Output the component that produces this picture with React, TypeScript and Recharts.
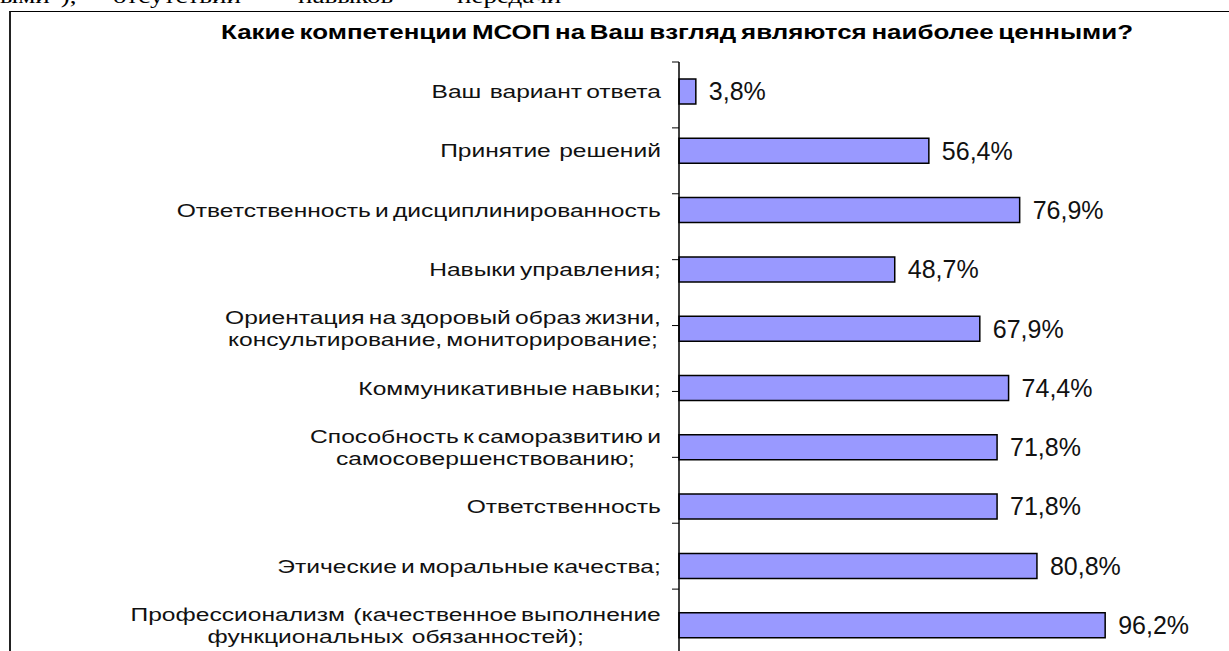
import React from 'react';
import { BarChart, Bar, XAxis, YAxis, LabelList } from 'recharts';

const categories: string[] = [
  'Ваш  вариант ответа',
  'Принятие  решений',
  'Ответственность и дисциплинированность',
  'Навыки управления;',
  'Ориентация на здоровый образ жизни,\nконсультирование, мониторирование;',
  'Коммуникативные навыки;',
  'Способность к саморазвитию и\nсамосовершенствованию;',
  'Ответственность',
  'Этические и моральные качества;',
  'Профессионализм  (качественное выполнение\nфункциональных  обязанностей);',
];
const values: number[] = [3.8, 56.4, 76.9, 48.7, 67.9, 74.4, 71.8, 71.8, 80.8, 96.2];
const boundaryTicks: number[] = [0, 1, 2, 3, 4, 5, 6, 7, 8, 9, 10];
const titleText = 'Какие компетенции МСОП на Ваш взгляд являются наиболее ценными?';
const headerWords: string[] = ['ыми"),', 'отсутствии', 'навыков', 'передачи'];
const headerWordX: number[] = [0, 113, 298, 457];

const data = categories.map((name, i) => ({ name, value: values[i] }));

const CAT_FONT = 18.5;
const CAT_SX = 1.33;
const CAT_LH = 22;
const CAT_WS = -2;
const FONT_FAMILY = '"Liberation Sans", Arial, sans-serif';

let ctx: CanvasRenderingContext2D | null = null;
function measure(s: string, font: string): number {
  if (!ctx && typeof document !== 'undefined') {
    ctx = document.createElement('canvas').getContext('2d');
  }
  if (!ctx) return s.length * 9;
  ctx.font = font;
  const spaces = (s.match(/ /g) || []).length;
  return ctx.measureText(s).width + spaces * CAT_WS;
}

const CatTick = (props: any) => {
  const { x, y, payload } = props;
  const lines = String(payload.value).split('\n');
  const font = `${CAT_FONT}px "Liberation Sans"`;
  const maxW = Math.max(...lines.map((l) => measure(l, font)));
  const startY = -((lines.length - 1) * CAT_LH) / 2;
  return (
    <g transform={`translate(${x},${y}) scale(${CAT_SX},1)`}>
      <text
        textAnchor="middle"
        fontSize={CAT_FONT}
        fontFamily={FONT_FAMILY}
        fill="#111"
        style={{ whiteSpace: 'pre', wordSpacing: CAT_WS }}
      >
        {lines.map((l, i) => (
          <tspan key={i} x={-maxW / 2} y={startY + i * CAT_LH} dy="0.35em">
            {l}
          </tspan>
        ))}
      </text>
    </g>
  );
};

const NoTick = () => null;

const fmt = (v: any) => Number(v).toFixed(1).replace('.', ',') + '%';

export default function App() {
  return (
    <div style={{ position: 'absolute', left: 0, top: 0, width: 1229, height: 651, overflow: 'hidden', background: '#fff' }}>
      {headerWords.map((w, i) => (
        <span
          key={i}
          style={{
            position: 'absolute',
            left: headerWordX[i],
            top: -16,
            fontFamily: '"Liberation Serif", "Times New Roman", serif',
            fontSize: 20,
            lineHeight: '24px',
            transform: 'scaleX(1.35)',
            transformOrigin: 'left top',
            whiteSpace: 'pre',
            color: '#000',
          }}
        >
          {w}
        </span>
      ))}
      <div
        style={{
          position: 'absolute',
          left: 9,
          top: 11,
          width: 1400,
          height: 800,
          borderTop: '1px solid #000',
          borderLeft: '2px solid #222',
        }}
      />
      <div style={{ position: 'absolute', left: 0, top: 0 }}>
        <BarChart
          width={1229}
          height={660}
          data={data}
          layout="vertical"
          margin={{ top: 62, right: 107, bottom: 5, left: 10 }}
        >
          <XAxis type="number" domain={[0, 100]} hide />
          <YAxis
            yAxisId="cat"
            type="category"
            dataKey="name"
            width={669}
            axisLine={false}
            tickLine={false}
            tickSize={0}
            tickMargin={18}
            interval={0}
            tick={<CatTick />}
          />
          <YAxis
            yAxisId="grid"
            type="number"
            domain={[0, 10]}
            ticks={boundaryTicks}
            mirror
            tick={<NoTick />}
            tickSize={-7}
            axisLine={{ stroke: '#000', strokeWidth: 1.5 }}
            tickLine={{ stroke: '#000', strokeWidth: 1 }}
            allowDataOverflow
          />
          <Bar
            yAxisId="cat"
            dataKey="value"
            fill="#9999FF"
            stroke="#000"
            strokeWidth={1.5}
            barSize={25}
            isAnimationActive={false}
          >
            <LabelList
              dataKey="value"
              position="right"
              offset={13}
              formatter={fmt}
              fontSize={25}
              fontFamily={FONT_FAMILY}
              fill="#111"
            />
          </Bar>
        </BarChart>
      </div>
      <svg width={1229} height={60} style={{ position: 'absolute', left: 0, top: 0 }}>
        <text
          x={677}
          y={39}
          textAnchor="middle"
          fontFamily={FONT_FAMILY}
          fontWeight="bold"
          fontSize={21}
          textLength={912}
          lengthAdjust="spacingAndGlyphs"
          fill="#000"
          style={{ wordSpacing: -2 }}
        >
          {titleText}
        </text>
      </svg>
    </div>
  );
}
